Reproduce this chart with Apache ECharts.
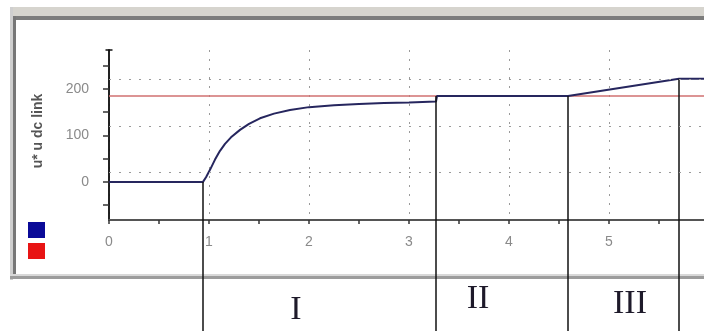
<!DOCTYPE html>
<html>
<head>
<meta charset="utf-8">
<script src="https://cdn.jsdelivr.net/npm/echarts@6/dist/echarts.min.js"></script>
<style>
html,body{margin:0;padding:0;background:#fff;}
#chart{width:704px;height:331px;}
</style>
</head>
<body>
<div id="chart"></div>
<script>
// ---- data ----
const measuredT = [0, 0.5, 0.94, 0.97, 1.01, 1.06, 1.11, 1.16, 1.22, 1.31, 1.4, 1.51, 1.65, 1.81, 2.0, 2.25, 2.5, 2.75, 3.0, 3.27, 3.28, 4.59, 5.70, 6.0];
const measuredU = [0, 0, 0, 10, 26, 48, 67, 82, 96, 112, 125, 137, 147, 155, 161, 165, 168, 170, 171, 173, 185, 185, 222, 222];
const refT = [0, 6];
const refU = [185, 185];
const gridLevels = [20, 120, 220];
const yTickValues = [-50, 0, 50, 100, 150, 200, 250];
const yLabelValues = [0, 100, 200];
const phaseBoundsT = [0.94, 3.27, 4.59, 5.70];
const phaseBoundsU = [0, 185, 185, 222];
const phaseNames = ['I', 'II', 'III'];
const phaseCenterT = [1.87, 3.69, 5.21];
const seriesNames = ['u dc link', 'u*'];

// ---- build ----
const measured = measuredT.map((t, i) => [t, measuredU[i]]);
const reference = refT.map((t, i) => [t, refU[i]]);
const bounds = phaseBoundsT.map((t, i) => [t, phaseBoundsU[i]]);
const phases = phaseCenterT.map((t, i) => [t, 0, phaseNames[i]]);
const phaseLabelY = [310, 299, 304];

const chart = echarts.init(document.getElementById('chart'), null, {renderer: 'canvas'});
const gray = '#8a8a8a';
chart.setOption({
  backgroundColor: '#ffffff',
  animation: false,
  graphic: [
    {type: 'rect', shape: {x: 10, y: 7, width: 694, height: 9}, style: {fill: '#d6d4ce'}, z: 0},
    {type: 'rect', shape: {x: 10, y: 16, width: 694, height: 4}, style: {fill: '#7c7c7c'}, z: 0},
    {type: 'rect', shape: {x: 10, y: 7, width: 3, height: 273}, style: {fill: '#cfcfcf'}, z: 0},
    {type: 'rect', shape: {x: 13, y: 16, width: 3, height: 261}, style: {fill: '#777777'}, z: 0},
    {type: 'rect', shape: {x: 10, y: 274, width: 694, height: 2}, style: {fill: '#d8d8d8'}, z: 0},
    {type: 'rect', shape: {x: 10, y: 276, width: 694, height: 3}, style: {fill: '#9c9c9c'}, z: 0}
  ],
  legend: {
    orient: 'vertical',
    left: 28, top: 222, padding: 0,
    itemWidth: 17, itemHeight: 16, itemGap: 5,
    icon: 'rect',
    selectedMode: false,
    formatter: () => '',
    data: [
      {name: seriesNames[0], itemStyle: {color: '#0a0a98'}},
      {name: seriesNames[1], itemStyle: {color: '#e81414'}}
    ]
  },
  grid: {left: 109, top: 50, width: 600, height: 170, outerBoundsMode: 'none', containLabel: false},
  xAxis: {
    type: 'value', min: 0, max: 6, interval: 1,
    axisLine: {show: true, onZero: false, lineStyle: {color: '#555', width: 2}},
    axisTick: {show: true, length: 4, lineStyle: {color: '#333', width: 1.5}},
    minorTick: {show: true, splitNumber: 2, length: 4, lineStyle: {color: '#333', width: 1.5}},
    axisLabel: {color: gray, fontSize: 14, margin: 15, fontFamily: 'Liberation Sans'},
    splitLine: {show: true, lineStyle: {color: '#9a9a9a', type: [2, 7], width: 1}}
  },
  yAxis: [
    {
      type: 'value', min: -82, max: 284, position: 'left', offset: 12,
      name: 'u* u dc link', nameLocation: 'middle', nameGap: 52,
      nameTextStyle: {color: '#555', fontSize: 14, fontWeight: 'bold', fontFamily: 'Liberation Sans', padding: [0, 0, 0, 8]},
      axisLine: {show: true, lineStyle: {color: '#222', width: 1.5}},
      axisTick: {show: true, length: 6, customValues: yTickValues, lineStyle: {color: '#333', width: 1.5}},
      axisLabel: {customValues: yLabelValues, color: gray, fontSize: 14, margin: 8, fontFamily: 'Liberation Sans'},
      splitLine: {show: false}
    },
    {
      type: 'value', min: -82, max: 284, position: 'left', offset: 0,
      axisLine: {show: true, lineStyle: {color: '#111', width: 1.5}, symbol: ['none', 'rect'], symbolSize: [7, 1.5]},
      axisTick: {show: false}, axisLabel: {show: false}, splitLine: {show: false}
    }
  ],
  series: [
    {
      name: seriesNames[1], type: 'line', data: reference, symbol: 'none',
      lineStyle: {color: '#d07070', width: 1.5}, itemStyle: {color: '#e81414'},
      z: 2,
      markLine: {
        silent: true, symbol: 'none', label: {show: false},
        lineStyle: {color: '#9a9a9a', type: [2, 8], width: 1},
        data: gridLevels.map(v => ({yAxis: v}))
      }
    },
    {
      name: seriesNames[0], type: 'line', data: measured, symbol: 'none',
      lineStyle: {color: '#26265e', width: 2}, itemStyle: {color: '#0a0a98'},
      z: 3
    },
    {
      type: 'custom', clip: false, data: bounds, z: 4, silent: true,
      renderItem: (params, api) => {
        const p = api.coord([api.value(0), api.value(1)]);
        return {type: 'line', shape: {x1: p[0], y1: p[1], x2: p[0], y2: 331}, style: {stroke: '#111', lineWidth: 1.5}};
      }
    },
    {
      type: 'custom', clip: false, data: phases, z: 4, silent: true,
      renderItem: (params, api) => {
        const p = api.coord([api.value(0), 0]);
        return {type: 'text', x: p[0], y: phaseLabelY[params.dataIndex],
          style: {text: phaseNames[params.dataIndex], font: '34px "Liberation Serif"', fill: '#1e1a2a', align: 'center', verticalAlign: 'middle'}};
      }
    }
  ]
});
</script>
</body>
</html>
